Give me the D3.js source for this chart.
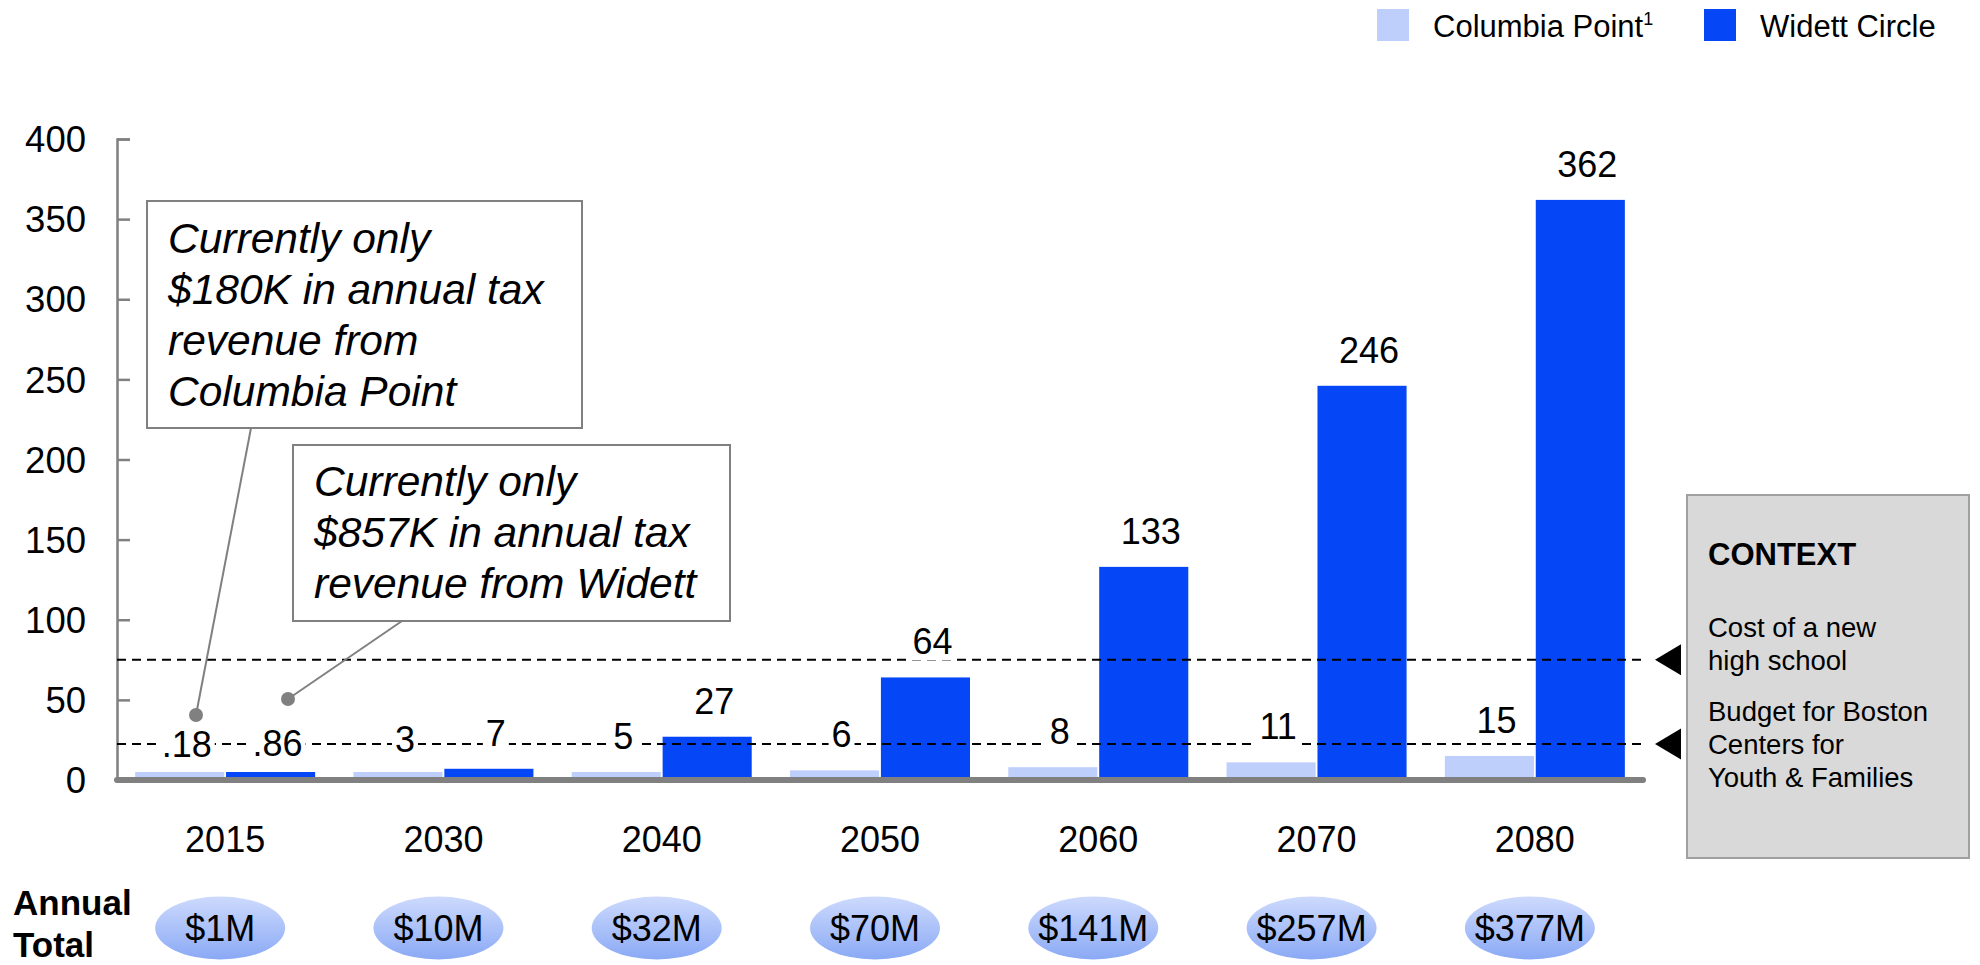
<!DOCTYPE html>
<html>
<head>
<meta charset="utf-8">
<script src="https://cdn.jsdelivr.net/npm/d3@7"></script>
<style>
  html, body { margin: 0; padding: 0; background: #fff; }
  svg { display: block; font-family: "Liberation Sans", Arial, Helvetica, sans-serif; }
</style>
</head>
<body>
<svg id="chart" width="1980" height="965"></svg>
<script>
// ---------- data ----------
const years = ['2015', '2030', '2040', '2050', '2060', '2070', '2080'];
const columbiaValues = [0.18, 3, 5, 6, 8, 11, 15];
const widettValues = [0.86, 7, 27, 64, 133, 246, 362];
const columbiaLabels = ['.18', '3', '5', '6', '8', '11', '15'];
const widettLabels = ['.86', '7', '27', '64', '133', '246', '362'];
const annualTotals = ['$1M', '$10M', '$32M', '$70M', '$141M', '$257M', '$377M'];
const yTickValues = [0, 50, 100, 150, 200, 250, 300, 350, 400];
const seriesNames = ['Columbia Point', 'Widett Circle'];
const refValues = [75, 22.5];
const contextTitle = 'CONTEXT';
const contextLines1 = ['Cost of a new', 'high school'];
const contextLines2 = ['Budget for Boston', 'Centers for', 'Youth & Families'];
const note1 = ['Currently only', '$180K in annual tax', 'revenue from', 'Columbia Point'];
const note2 = ['Currently only', '$857K in annual tax', 'revenue from Widett'];

// ---------- styles ----------
const colLight = '#bfcffc';
const colDark = '#0546f7';
const gray = '#808080';

const svg = d3.select('#chart');

const y = d3.scaleLinear().domain([0, 400]).range([780, 139]);
const x = d3.scaleBand().domain(years).range([116, 1644]).padding(0);
const xs = d3.scaleBand().domain(seriesNames).range([-90, 90]).paddingInner(0.02);
const cx = d => x(d) + x.bandwidth() / 2;

// gradient for annual totals
const defs = svg.append('defs');
const grad = defs.append('linearGradient').attr('id', 'ellGrad')
  .attr('x1', 0).attr('y1', 0).attr('x2', 0).attr('y2', 1);
grad.append('stop').attr('offset', '0%').attr('stop-color', '#cddafd');
grad.append('stop').attr('offset', '100%').attr('stop-color', '#8aa9f5');

// ---------- y axis ----------
const yAxis = d3.axisRight(y).tickValues(yTickValues).tickSize(13).tickFormat('');
const gY = svg.append('g').attr('transform', 'translate(117,0)').call(yAxis);
gY.select('.domain').attr('stroke', gray).attr('stroke-width', 2.5);
gY.selectAll('.tick line').attr('stroke', gray).attr('stroke-width', 2.5);

svg.append('g').selectAll('text').data(yTickValues).join('text')
  .attr('x', 86).attr('y', d => y(d)).attr('dy', '0.36em')
  .attr('text-anchor', 'end').attr('font-size', 36.5).attr('fill', '#000')
  .text(d => d);

// ---------- bars ----------
const minH = 8;
const barData = [];
years.forEach((yr, i) => {
  barData.push({ yr, s: seriesNames[0], v: columbiaValues[i], lab: columbiaLabels[i], c: colLight });
  barData.push({ yr, s: seriesNames[1], v: widettValues[i], lab: widettLabels[i], c: colDark });
});

svg.append('g').selectAll('rect').data(barData).join('rect')
  .attr('x', d => cx(d.yr) + xs(d.s))
  .attr('width', xs.bandwidth())
  .attr('y', d => Math.min(y(d.v), y(0) - minH))
  .attr('height', d => Math.max(y(0) - y(d.v), minH))
  .attr('fill', d => d.c);

// ---------- reference dashed lines ----------
svg.append('g').selectAll('line').data(refValues).join('line')
  .attr('x1', 117).attr('x2', 1643)
  .attr('y1', d => y(d)).attr('y2', d => y(d))
  .attr('stroke', '#000').attr('stroke-width', 2).attr('stroke-dasharray', '9,6');

// triangles
svg.append('g').selectAll('path').data(refValues).join('path')
  .attr('d', d => `M1655,${y(d)} L1681,${y(d) - 15.5} L1681,${y(d) + 15.5} Z`)
  .attr('fill', '#000');

// baseline
svg.append('line').attr('x1', 117).attr('x2', 1643)
  .attr('y1', y(0)).attr('y2', y(0))
  .attr('stroke', gray).attr('stroke-width', 6).attr('stroke-linecap', 'round');

// ---------- data labels with white background ----------
const labG = svg.append('g');
barData.forEach(d => {
  const g = labG.append('g');
  const t = g.append('text')
    .attr('x', cx(d.yr) + xs(d.s) + xs.bandwidth() / 2 + 7)
    .attr('y', y(d.v) - 23)
    .attr('text-anchor', 'middle').attr('font-size', 36).attr('fill', '#000')
    .text(d.lab);
  const bb = t.node().getBBox();
  g.insert('rect', 'text')
    .attr('x', bb.x - 3).attr('y', bb.y + 4).attr('width', bb.width + 6).attr('height', bb.height - 6)
    .attr('fill', '#fff');
});

// ---------- category labels ----------
svg.append('g').selectAll('text').data(years).join('text')
  .attr('x', d => cx(d)).attr('y', 852)
  .attr('text-anchor', 'middle').attr('font-size', 36).attr('fill', '#000')
  .text(d => d);

// ---------- annual totals ----------
svg.append('text').attr('x', 13).attr('y', 915).attr('font-size', 35).attr('font-weight', 'bold').text('Annual');
svg.append('text').attr('x', 13).attr('y', 957).attr('font-size', 35).attr('font-weight', 'bold').text('Total');

const totG = svg.append('g').selectAll('g').data(years).join('g')
  .attr('transform', d => `translate(${cx(d) - 5},928)`);
totG.append('ellipse').attr('rx', 65).attr('ry', 31.5).attr('fill', 'url(#ellGrad)');
totG.append('text').attr('text-anchor', 'middle').attr('dy', '0.36em')
  .attr('font-size', 36).attr('fill', '#000')
  .text((d, i) => annualTotals[i]);

// ---------- legend ----------
const leg = svg.append('g');
leg.append('rect').attr('x', 1377).attr('y', 9).attr('width', 32).attr('height', 32).attr('fill', colLight);
const lt1 = leg.append('text').attr('x', 1433).attr('y', 37).attr('font-size', 31).attr('fill', '#000');
lt1.append('tspan').text(seriesNames[0]);
lt1.append('tspan').attr('font-size', 18).attr('dy', -12).text('1');
leg.append('rect').attr('x', 1704).attr('y', 9).attr('width', 32).attr('height', 32).attr('fill', colDark);
leg.append('text').attr('x', 1760).attr('y', 37).attr('font-size', 31).attr('fill', '#000').text(seriesNames[1]);

// ---------- annotation callouts ----------
function callout(bx, by, bw, bh, lines, tx, ty0, lh, from, to) {
  const g = svg.append('g');
  g.append('line').attr('x1', from[0]).attr('y1', from[1]).attr('x2', to[0]).attr('y2', to[1])
    .attr('stroke', gray).attr('stroke-width', 2);
  g.append('circle').attr('cx', to[0]).attr('cy', to[1]).attr('r', 7).attr('fill', gray);
  g.append('rect').attr('x', bx).attr('y', by).attr('width', bw).attr('height', bh)
    .attr('fill', '#fff').attr('stroke', gray).attr('stroke-width', 2);
  g.selectAll('text.n').data(lines).join('text').attr('class', 'n')
    .attr('x', tx).attr('y', (d, i) => ty0 + i * lh)
    .attr('font-size', 42.5).attr('font-style', 'italic').attr('fill', '#000')
    .text(d => d);
}
callout(147, 201, 435, 227, note1, 168, 253, 51, [251, 428], [196, 715]);
callout(293, 445, 437, 176, note2, 314, 496, 51, [402, 621], [288, 699]);

// ---------- context box ----------
const cb = svg.append('g');
cb.append('rect').attr('x', 1687).attr('y', 495).attr('width', 282).attr('height', 363)
  .attr('fill', '#d9d9d9').attr('stroke', '#a0a0a0').attr('stroke-width', 2);
cb.append('text').attr('x', 1708).attr('y', 565).attr('font-size', 31).attr('font-weight', 'bold').text(contextTitle);
cb.selectAll('text.c1').data(contextLines1).join('text').attr('class', 'c1')
  .attr('x', 1708).attr('y', (d, i) => 637 + i * 33).attr('font-size', 27.5).text(d => d);
cb.selectAll('text.c2').data(contextLines2).join('text').attr('class', 'c2')
  .attr('x', 1708).attr('y', (d, i) => 721 + i * 33).attr('font-size', 27.5).text(d => d);
</script>
</body>
</html>
